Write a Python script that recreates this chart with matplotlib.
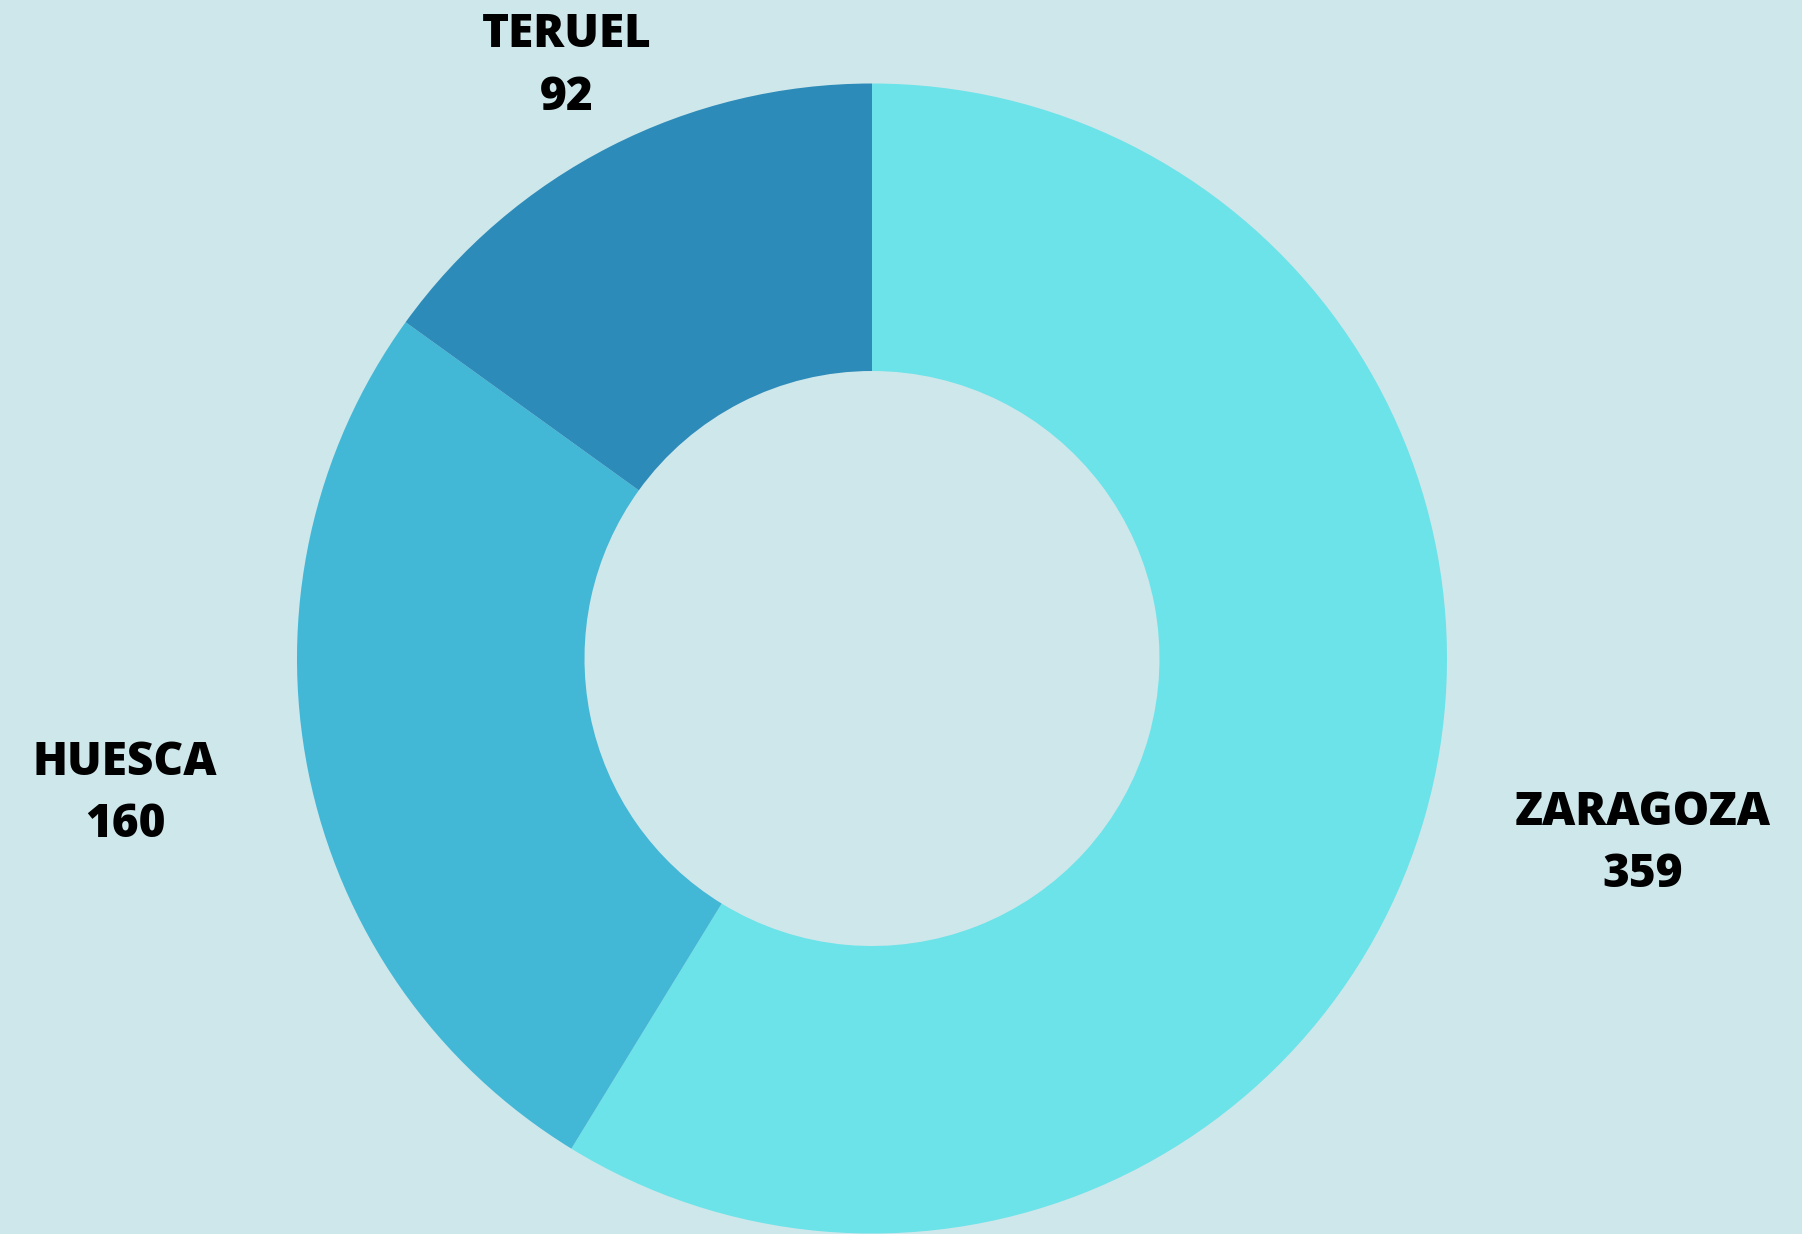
import matplotlib.pyplot as plt

# values
provinces = ["ZARAGOZA", "HUESCA", "TERUEL"]
counts = [359, 160, 92]
colors = ["#6BE3E8", "#43B7D6", "#2D8BB9"]

# label anchors in pixel coords (x centre, baseline of name, baseline of value)
label_x = [1643, 125, 567]
name_y = [825, 775, 47]
value_y = [887, 837, 110]

W, H = 1802, 1234
BG = "#CEE7EB"

fig = plt.figure(figsize=(W / 100, H / 100), dpi=100, facecolor=BG)
ax = fig.add_axes([0, 0, 1, 1])
ax.set_facecolor(BG)
ax.set_xlim(0, W)
ax.set_ylim(0, H)
ax.set_aspect("equal")
ax.axis("off")

# donut, clockwise from 12 o'clock
ax.pie(counts, colors=colors, startangle=90, counterclock=False,
       center=(872, H - 658.5), radius=575, frame=True,
       wedgeprops=dict(width=287.5, linewidth=0))
ax.set_xlim(0, W)
ax.set_ylim(0, H)
ax.axis("off")

font = dict(family=["Open Sans", "DejaVu Sans"], weight="heavy", fontsize=33,
            color="black", ha="center", va="baseline")
for name, val, x, ny, vy in zip(provinces, counts, label_x, name_y, value_y):
    ax.text(x, H - ny, name, **font)
    ax.text(x, H - vy, str(val), **font)

fig.savefig("out.png", dpi=100, facecolor=BG)
